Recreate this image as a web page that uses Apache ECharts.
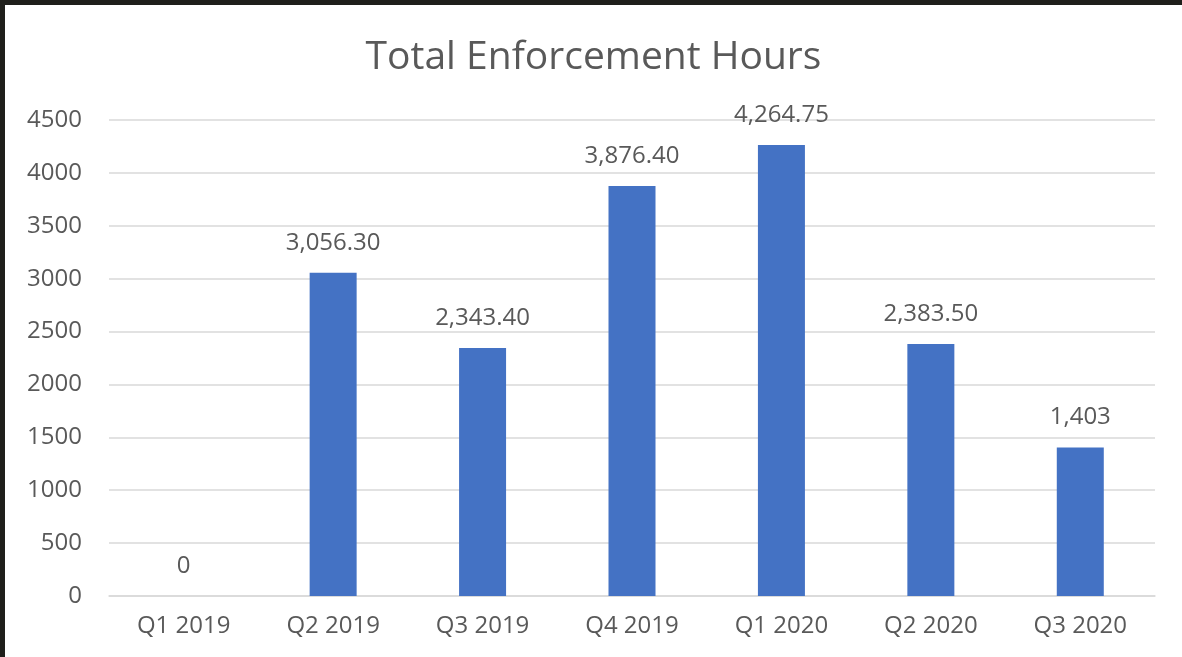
<!DOCTYPE html>
<html>
<head>
<meta charset="utf-8">
<script src="https://cdn.jsdelivr.net/npm/echarts@6/dist/echarts.min.js"></script>
<style>
  html, body { margin: 0; padding: 0; width: 1182px; height: 657px; background: #1f1f1b; overflow: hidden; }
  #chart { position: absolute; left: 5px; top: 5px; width: 1177px; height: 652px; background: #ffffff; }
</style>
</head>
<body>
<div id="chart"></div>
<script>
const categories = ['Q1 2019', 'Q2 2019', 'Q3 2019', 'Q4 2019', 'Q1 2020', 'Q2 2020', 'Q3 2020'];
const hours = [0, 3056.30, 2343.40, 3876.40, 4264.75, 2383.50, 1403];
const dataLabels = ['0', '3,056.30', '2,343.40', '3,876.40', '4,264.75', '2,383.50', '1,403'];
const yTicks = [0, 500, 1000, 1500, 2000, 2500, 3000, 3500, 4000, 4500];

const textColor = '#595959';
const fontFamily = '"Open Sans", "Noto Sans", sans-serif';

const chart = echarts.init(document.getElementById('chart'), null, { renderer: 'canvas' });
chart.setOption({
  animation: false,
  backgroundColor: '#ffffff',
  title: {
    text: 'Total Enforcement Hours',
    left: 'center',
    top: 28,
    textStyle: { color: textColor, fontFamily: fontFamily, fontSize: 39, fontWeight: 'normal' }
  },
  grid: { left: 104, right: 27, top: 115, bottom: 61 },
  xAxis: {
    type: 'category',
    data: categories,
    axisLine: { show: true, lineStyle: { color: '#d9d9d9', width: 1.5 } },
    axisTick: { show: false },
    axisLabel: { color: textColor, fontFamily: fontFamily, fontSize: 24, margin: 18 }
  },
  yAxis: {
    type: 'value',
    min: yTicks[0],
    max: yTicks[yTicks.length - 1],
    interval: yTicks[1] - yTicks[0],
    axisLine: { show: false },
    axisTick: { show: false },
    splitLine: { show: true, lineStyle: { color: '#d9d9d9', width: 1.5 } },
    axisLabel: {
      color: textColor, fontFamily: fontFamily, fontSize: 24, margin: 27,
      formatter: function (v) { return String(v); }
    }
  },
  series: [{
    type: 'bar',
    data: hours,
    barWidth: 47,
    itemStyle: { color: '#4472c4' },
    label: {
      show: true,
      position: 'top',
      distance: 18,
      color: textColor,
      fontFamily: fontFamily,
      fontSize: 24,
      formatter: function (p) { return dataLabels[p.dataIndex]; }
    }
  }]
});
</script>
</body>
</html>
